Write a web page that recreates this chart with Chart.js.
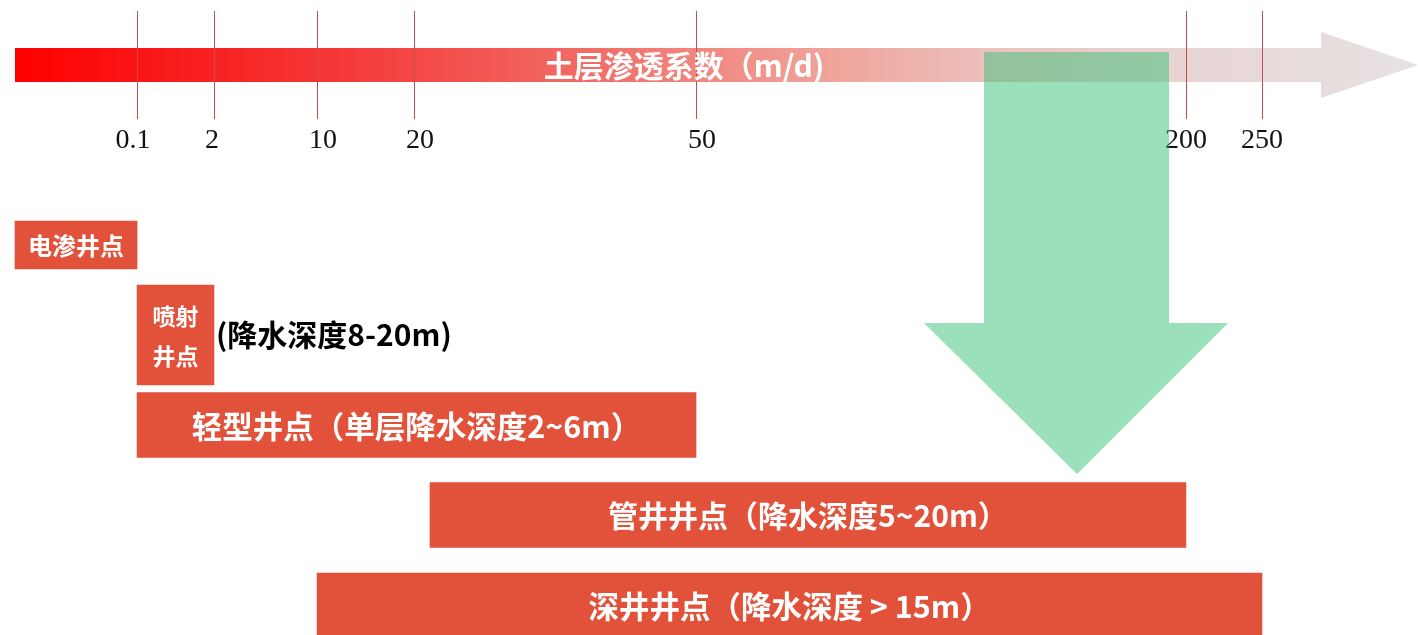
<!DOCTYPE html>
<html>
<head>
<meta charset="utf-8">
<script src="https://cdn.jsdelivr.net/npm/chart.js@4.4.1/dist/chart.umd.min.js"></script>
<style>
  html, body { margin: 0; padding: 0; background: #ffffff; }
  #wrap { width: 1418px; height: 635px; position: relative; }
</style>
</head>
<body>
<div id="wrap"><canvas id="c" width="1418" height="635"></canvas></div>
<script>
// ---------------- data ----------------
const categories = ['电渗井点', '喷射井点', '轻型井点', '管井井点', '深井井点'];
const barTexts = [
  ['电渗井点'],
  ['喷射', '井点'],
  ['轻型井点（单层降水深度2~6m）'],
  ['管井井点（降水深度5~20m）'],
  ['深井井点（降水深度 > 15m）']
];
const rangeStart = [0, 0.1, 0.1, 21.7, 10];
const rangeEnd   = [0.1, 2, 50, 200, 250];
const tickValues = [0.1, 2, 10, 20, 50, 200, 250];
const tickLabels = ['0.1', '2', '10', '20', '50', '200', '250'];
const axisTitle = '土层渗透系数（m/d)';
const sideNote = '(降水深度8-20m)';
const sideNoteIndex = 1;

// ---------------- styles ----------------
const barColor = '#e2513a';
const barThick = [48, 100, 65, 65, 64];
const barFontSize = [24, 23, 30.5, 30, 30.5];
const labelShift = [-4, -2, 6, 6, 6, 0, 0];
const cjk = '"Noto Sans CJK SC", "Noto Sans", sans-serif';

// ---------------- irregular (piecewise) axis scale ----------------
const BaseLinear = Chart.LinearScale || Chart.registry.getScale('linear');
class PiecewiseScale extends BaseLinear {
  _frac(value) {
    const bv = this.options.breakValues, bf = this.options.breakFractions;
    if (value <= bv[0]) return bf[0];
    for (let i = 1; i < bv.length; i++) {
      if (value <= bv[i]) {
        return bf[i - 1] + (value - bv[i - 1]) / (bv[i] - bv[i - 1]) * (bf[i] - bf[i - 1]);
      }
    }
    return bf[bf.length - 1];
  }
  getPixelForValue(value) {
    if (value === null || value === undefined || isNaN(value)) return NaN;
    return this.getPixelForDecimal(this._frac(value));
  }
  getValueForPixel(pixel) {
    const bv = this.options.breakValues, bf = this.options.breakFractions;
    const f = this.getDecimalForPixel(pixel);
    for (let i = 1; i < bf.length; i++) {
      if (f <= bf[i]) return bv[i - 1] + (f - bf[i - 1]) / (bf[i] - bf[i - 1]) * (bv[i] - bv[i - 1]);
    }
    return bv[bv.length - 1];
  }
}
PiecewiseScale.id = 'piecewise';
PiecewiseScale.defaults = {};
Chart.register(PiecewiseScale);

// ---------------- decorations ----------------
const decor = {
  id: 'decor',
  beforeDatasetsDraw(chart) {
    const ctx = chart.ctx;
    const xs = chart.scales.x;
    const left = xs.left, right = xs.right;
    const headStart = right - 97;
    const cy = 65;
    ctx.save();
    // gradient arrow
    const g = ctx.createLinearGradient(left, 0, right, 0);
    g.addColorStop(0, 'rgb(255,0,0)');
    g.addColorStop(0.2, 'rgb(245,48,48)');
    g.addColorStop(0.4, 'rgb(242,105,100)');
    g.addColorStop(0.55, 'rgb(240,155,146)');
    g.addColorStop(0.7, 'rgb(236,194,190)');
    g.addColorStop(0.85, 'rgb(232,214,214)');
    g.addColorStop(1, 'rgb(230,226,226)');
    ctx.fillStyle = g;
    ctx.beginPath();
    ctx.moveTo(left, cy - 17);
    ctx.lineTo(headStart, cy - 17);
    ctx.lineTo(headStart, cy - 33);
    ctx.lineTo(right, cy);
    ctx.lineTo(headStart, cy + 33);
    ctx.lineTo(headStart, cy + 17);
    ctx.lineTo(left, cy + 17);
    ctx.closePath();
    ctx.fill();
    // tick lines
    ctx.strokeStyle = '#c0504d';
    ctx.lineWidth = 1;
    tickValues.forEach(v => {
      const px = Math.round(xs.getPixelForValue(v)) + 0.5;
      ctx.beginPath();
      ctx.moveTo(px, 11);
      ctx.lineTo(px, 119);
      ctx.stroke();
    });
    // tick labels
    ctx.fillStyle = '#111111';
    ctx.font = '28px "Liberation Serif", "Times New Roman", serif';
    ctx.textAlign = 'center';
    ctx.textBaseline = 'middle';
    tickValues.forEach((v, i) => {
      ctx.fillText(tickLabels[i], xs.getPixelForValue(v) + labelShift[i], 141);
    });
    // axis title
    ctx.fillStyle = '#ffffff';
    ctx.font = 'bold 30px ' + cjk;
    ctx.textAlign = 'center';
    ctx.fillText(axisTitle, 684, cy + 1);
    ctx.restore();
  },
  afterDatasetsDraw(chart) {
    const ctx = chart.ctx;
    ctx.save();
    ctx.textAlign = 'center';
    ctx.textBaseline = 'middle';
    categories.forEach((c, i) => {
      const el = chart.getDatasetMeta(i).data[i];
      if (!el) return;
      const p = el.getProps(['x', 'y', 'base'], true);
      const cx = (p.x + p.base) / 2;
      const lines = barTexts[i];
      const fs = barFontSize[i];
      const lh = fs * 1.72;
      ctx.fillStyle = '#ffffff';
      ctx.font = 'bold ' + fs + 'px ' + cjk;
      lines.forEach((t, k) => {
        const y = p.y + (k - (lines.length - 1) / 2) * lh + 1;
        ctx.fillText(t, cx, y);
      });
      if (i === sideNoteIndex) {
        ctx.fillStyle = '#000000';
        ctx.font = 'bold 30px ' + cjk;
        ctx.textAlign = 'left';
        ctx.fillText(sideNote, Math.max(p.x, p.base) + 2, p.y);
        ctx.textAlign = 'center';
      }
    });
    // green down arrow
    ctx.fillStyle = 'rgba(60,195,122,0.51)';
    ctx.beginPath();
    ctx.moveTo(984, 52);
    ctx.lineTo(1169, 52);
    ctx.lineTo(1169, 323);
    ctx.lineTo(1228, 323);
    ctx.lineTo(1077, 474);
    ctx.lineTo(924, 323);
    ctx.lineTo(984, 323);
    ctx.closePath();
    ctx.fill();
    ctx.restore();
  }
};

// ---------------- chart ----------------
const datasets = categories.map((c, i) => ({
  label: c,
  data: categories.map((_, j) => (j === i ? [rangeStart[i], rangeEnd[i]] : null)),
  backgroundColor: barColor,
  borderWidth: 0,
  barThickness: barThick[i],
  clip: false
}));

new Chart(document.getElementById('c'), {
  type: 'bar',
  data: { labels: categories, datasets },
  options: {
    indexAxis: 'y',
    responsive: false,
    devicePixelRatio: 1,
    animation: false,
    skipNull: true,
    layout: { padding: { left: 15, right: 0, top: 245, bottom: 30 } },
    plugins: { legend: { display: false }, tooltip: { enabled: false } },
    scales: {
      x: {
        type: 'piecewise',
        min: 0,
        max: 300,
        display: false,
        breakValues:    [0, 0.1,    2,      10,     20,     50,     200,    250,    300],
        breakFractions: [0, 0.0870, 0.1418, 0.2153, 0.2844, 0.4854, 0.8346, 0.8888, 1]
      },
      y: { type: 'category', offset: false, display: false }
    }
  },
  plugins: [decor]
});
</script>
</body>
</html>
